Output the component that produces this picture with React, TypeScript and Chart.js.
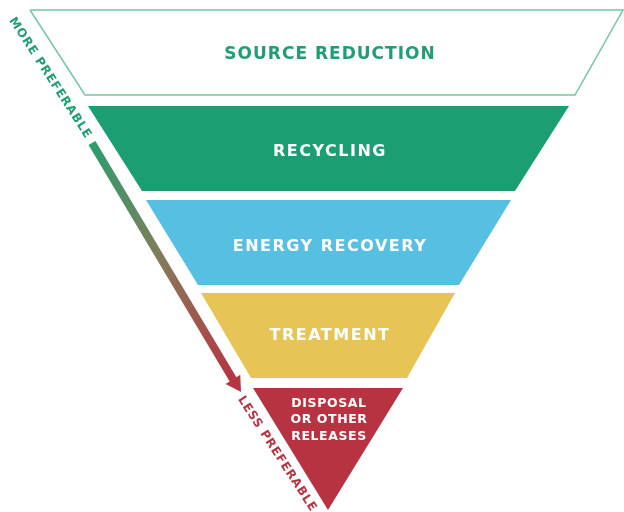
import React, { useEffect, useRef } from 'react';
import { Chart, registerables } from 'chart.js';

Chart.register(...registerables);

// Tier geometry (data space: x 0..624, y 0..512, y grows downward)
const tierNames = ['SOURCE REDUCTION', 'RECYCLING', 'ENERGY RECOVERY', 'TREATMENT', 'DISPOSAL|OR OTHER|RELEASES'];
const tierTop = [10, 106, 200, 293, 388];
const tierBottom = [95, 191, 285, 378, 510];
const tierTopLeft = [30, 88, 146, 201, 253];
const tierTopRight = [623, 569, 511, 455, 403];
const tierBottomLeft = [85, 142, 198, 251, 328];
const tierBottomRight = [575, 515, 459, 407, 328];
const tierLabelY = [55, 152, 247, 336, 420];
const tierLabelX = [330, 330, 330, 330, 329];
const tierFill = ['rgba(0,0,0,0)', '#1b9e72', '#56bfe2', '#e6c456', '#b83341'];
const tierText = ['#1f9e6f', '#ffffff', '#ffffff', '#ffffff', '#ffffff'];

// Preference arrow
const arrowStart = { x: 92, y: 143 };
const arrowBase = { x: 234, y: 381 };
const arrowTip = { x: 241, y: 392 };

// Side labels
const sideLabels = ['MORE PREFERABLE', 'LESS PREFERABLE'];
const sideLabelX = [50, 277];
const sideLabelY = [78, 454];
const sideLabelColor = ['#1f9e6f', '#b83341'];

const FONT = '"DejaVu Sans", sans-serif';

const labelPlugin = {
  id: 'pyramidLabels',
  afterDatasetsDraw(chart: any) {
    const { ctx, scales } = chart;
    const px = (v: number) => scales.x.getPixelForValue(v);
    const py = (v: number) => scales.y.getPixelForValue(v);
    ctx.save();
    ctx.textAlign = 'center';
    ctx.textBaseline = 'middle';
    tierNames.forEach((name, i) => {
      const lines = name.split('|');
      const multi = lines.length > 1;
      const size = i === 0 ? 17 : multi ? 12.5 : 16;
      ctx.font = `bold ${size}px ${FONT}`;
      (ctx as any).letterSpacing = multi ? '0.6px' : i === 0 ? '1px' : '1.5px';
      ctx.fillStyle = tierText[i];
      const lh = 16.5;
      lines.forEach((ln, j) => {
        const y = py(tierLabelY[i]) + (j - (lines.length - 1) / 2) * lh;
        ctx.fillText(ln, px(tierLabelX[i]), y);
      });
    });
    // side labels rotated along the funnel edge
    const ang = Math.atan2(
      py(tierBottom[0]) - py(tierTop[0]),
      px(tierBottomLeft[0]) - px(tierTopLeft[0])
    );
    sideLabels.forEach((t, i) => {
      ctx.save();
      ctx.translate(px(sideLabelX[i]), py(sideLabelY[i]));
      ctx.rotate(ang);
      ctx.font = `bold 12px ${FONT}`;
      (ctx as any).letterSpacing = '0.8px';
      ctx.fillStyle = sideLabelColor[i];
      ctx.fillText(t, 0, 0);
      ctx.restore();
    });
    ctx.restore();
  },
};

export default function App() {
  const ref = useRef<HTMLCanvasElement | null>(null);
  useEffect(() => {
    document.body.style.margin = '0';
    const canvas = ref.current;
    if (!canvas) return;

    const datasets: any[] = [];
    tierNames.forEach((_, i) => {
      const pts = [
        { x: tierTopLeft[i], y: tierTop[i] },
        { x: tierBottomLeft[i], y: tierBottom[i] },
        { x: tierBottomRight[i], y: tierBottom[i] },
        { x: tierTopRight[i], y: tierTop[i] },
      ];
      if (i === 0) {
        datasets.push({
          data: [...pts, pts[0]],
          showLine: true,
          borderColor: '#74c7a2',
          borderWidth: 1.5,
          pointRadius: 0,
          fill: false,
        });
      } else {
        datasets.push({
          data: pts,
          showLine: true,
          borderWidth: 0,
          borderColor: tierFill[i],
          backgroundColor: tierFill[i],
          pointRadius: 0,
          fill: { value: tierTop[i] },
        });
      }
    });

    datasets.push({
      data: [arrowStart, arrowBase],
      showLine: true,
      borderWidth: 8,
      borderCapStyle: 'butt',
      pointRadius: 0,
      fill: false,
      borderColor: (c: any) => {
        const ch = c.chart;
        const sx = ch.scales && ch.scales.x, sy = ch.scales && ch.scales.y;
        if (!sx || !sy) return '#857a58';
        const x0 = sx.getPixelForValue(arrowStart.x), y0 = sy.getPixelForValue(arrowStart.y);
        const x1 = sx.getPixelForValue(arrowBase.x), y1 = sy.getPixelForValue(arrowBase.y);
        if (![x0, y0, x1, y1].every(Number.isFinite)) return '#857a58';
        const g = ch.ctx.createLinearGradient(x0, y0, x1, y1);
        g.addColorStop(0, '#2a9e6f');
        g.addColorStop(0.5, '#857a58');
        g.addColorStop(1, '#b83341');
        return g;
      },
    });

    const dirX = arrowTip.x - arrowBase.x;
    const dirY = arrowTip.y - arrowBase.y;
    const rot = (Math.atan2(dirX, -dirY) * 180) / Math.PI;
    const len = Math.hypot(dirX, dirY);
    const r = 10;
    datasets.push({
      data: [{ x: arrowTip.x - (dirX / len) * r, y: arrowTip.y - (dirY / len) * r }],
      showLine: false,
      pointStyle: 'triangle',
      pointRadius: r,
      pointRotation: rot,
      pointBackgroundColor: '#b83341',
      pointBorderWidth: 0,
      pointBorderColor: '#b83341',
    });

    const chart = new Chart(canvas, {
      type: 'scatter',
      data: { datasets },
      options: {
        animation: false,
        responsive: false,
        maintainAspectRatio: false,
        events: [],
        layout: { padding: 0, autoPadding: false },
        plugins: { legend: { display: false }, tooltip: { enabled: false } },
        scales: {
          x: { type: 'linear', min: 0, max: 624, display: false },
          y: { type: 'linear', min: 0, max: 512, reverse: true, display: false },
        },
      },
      plugins: [labelPlugin],
    });
    return () => chart.destroy();
  }, []);

  return (
    <div style={{ width: 624, height: 512, background: '#ffffff' }}>
      <canvas ref={ref} width={624} height={512} style={{ display: 'block' }} />
    </div>
  );
}
